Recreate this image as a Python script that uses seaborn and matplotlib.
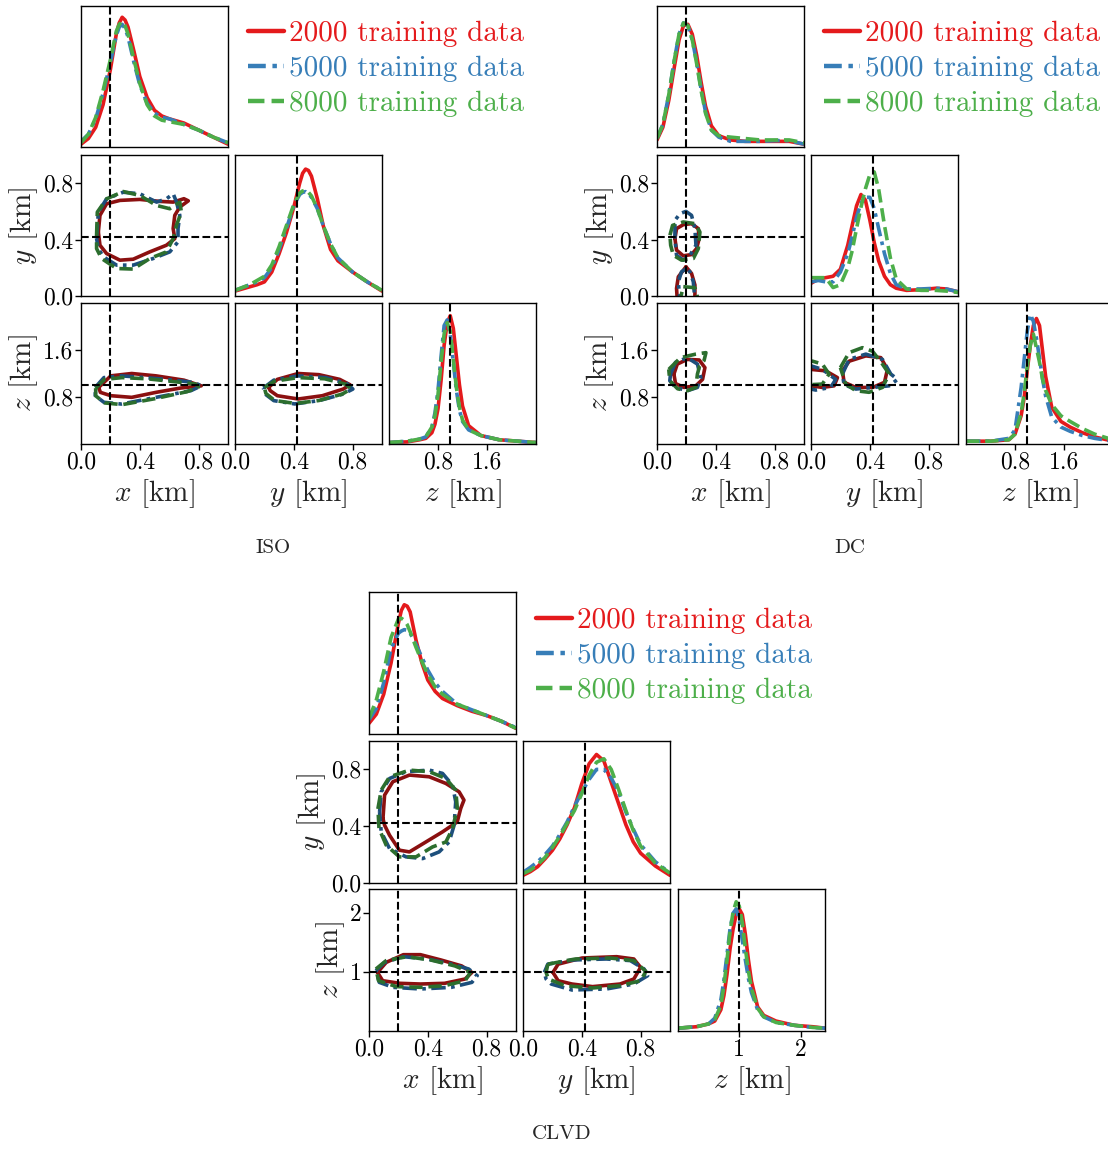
import matplotlib
matplotlib.use("Agg")
import matplotlib.pyplot as plt
import seaborn as sns
from matplotlib.lines import Line2D
from matplotlib.ticker import FixedLocator, FormatStrFormatter, NullLocator

# ---------------- data ----------------
TRAINING_SIZES = [2000, 5000, 8000]
TRUTH = [0.2, 0.42, 1.0]          # x, y, z  [km]
XLIM = [0.0, 1.0]
YLIM = [0.0, 1.0]
ZLIM = [0.0, 2.4]
XY_TICKS = [0.0, 0.4, 0.8]
ISO_Z_TICKS = [0.8, 1.6]
DC_Z_TICKS = [0.8, 1.6]
CLVD_Z_TICKS = [1, 2]

# ---- ISO marginals (relative density, 0..1 of panel height)
ISO_X_GRID = [0.0, 0.05, 0.1, 0.15, 0.2, 0.24, 0.26, 0.28, 0.30, 0.32, 0.36, 0.4, 0.45, 0.5, 0.55, 0.6, 0.7, 0.8, 0.9, 1.0]
ISO_X_2000 = [0.02, 0.06, 0.14, 0.30, 0.55, 0.80, 0.88, 0.92, 0.90, 0.85, 0.68, 0.50, 0.35, 0.26, 0.22, 0.20, 0.17, 0.12, 0.07, 0.02]
ISO_X_5000 = [0.04, 0.09, 0.20, 0.38, 0.60, 0.79, 0.85, 0.87, 0.84, 0.78, 0.60, 0.44, 0.31, 0.24, 0.21, 0.20, 0.16, 0.12, 0.07, 0.03]
ISO_X_8000 = [0.03, 0.09, 0.21, 0.40, 0.62, 0.82, 0.87, 0.89, 0.86, 0.80, 0.62, 0.45, 0.30, 0.22, 0.19, 0.18, 0.16, 0.12, 0.07, 0.03]

ISO_Y_GRID = [0.0, 0.05, 0.1, 0.15, 0.2, 0.25, 0.3, 0.35, 0.4, 0.44, 0.46, 0.48, 0.50, 0.52, 0.56, 0.6, 0.65, 0.7, 0.8, 0.9, 1.0]
ISO_Y_2000 = [0.035, 0.05, 0.065, 0.08, 0.10, 0.17, 0.30, 0.45, 0.63, 0.80, 0.87, 0.90, 0.89, 0.85, 0.69, 0.50, 0.33, 0.25, 0.17, 0.10, 0.035]
ISO_Y_5000 = [0.04, 0.06, 0.08, 0.10, 0.13, 0.20, 0.33, 0.48, 0.64, 0.72, 0.735, 0.74, 0.725, 0.70, 0.62, 0.50, 0.37, 0.27, 0.17, 0.10, 0.04]
ISO_Y_8000 = [0.04, 0.06, 0.08, 0.11, 0.14, 0.22, 0.35, 0.50, 0.65, 0.73, 0.745, 0.75, 0.735, 0.71, 0.62, 0.50, 0.37, 0.27, 0.17, 0.10, 0.04]

ISO_Z_GRID = [0.0, 0.3, 0.5, 0.6, 0.7, 0.75, 0.8, 0.85, 0.9, 0.95, 1.0, 1.05, 1.1, 1.15, 1.2, 1.3, 1.5, 1.8, 2.1, 2.4]
ISO_Z_2000 = [0.01, 0.015, 0.03, 0.04, 0.08, 0.14, 0.25, 0.45, 0.70, 0.86, 0.91, 0.82, 0.62, 0.42, 0.27, 0.13, 0.06, 0.03, 0.02, 0.01]
ISO_Z_5000 = [0.01, 0.02, 0.035, 0.05, 0.12, 0.22, 0.38, 0.62, 0.84, 0.88, 0.78, 0.58, 0.38, 0.24, 0.16, 0.10, 0.06, 0.03, 0.02, 0.01]
ISO_Z_8000 = [0.01, 0.02, 0.035, 0.05, 0.12, 0.20, 0.35, 0.58, 0.78, 0.86, 0.80, 0.60, 0.40, 0.26, 0.17, 0.10, 0.06, 0.03, 0.02, 0.01]

# ---- ISO contours (lists of closed loops of (a, b) points)
ISO_XY_2000 = [[(0.118, 0.454), (0.129, 0.572), (0.174, 0.654), (0.265, 0.678), (0.40, 0.685), (0.536, 0.671), (0.627, 0.666),
                (0.70, 0.69), (0.73, 0.675), (0.672, 0.631), (0.638, 0.572), (0.627, 0.478), (0.638, 0.407), (0.581, 0.36),
                (0.468, 0.313), (0.355, 0.261), (0.265, 0.254), (0.174, 0.301), (0.129, 0.36)]]
ISO_XY_5000 = [[(0.106, 0.407), (0.118, 0.595), (0.174, 0.689), (0.287, 0.736), (0.40, 0.725), (0.514, 0.666), (0.581, 0.689),
                (0.627, 0.725), (0.65, 0.666), (0.672, 0.572), (0.66, 0.478), (0.66, 0.384), (0.604, 0.313), (0.491, 0.266),
                (0.355, 0.219), (0.242, 0.219), (0.152, 0.278), (0.118, 0.336)]]
ISO_XY_8000 = [[(0.106, 0.431), (0.111, 0.595), (0.174, 0.689), (0.287, 0.741), (0.40, 0.713), (0.514, 0.642), (0.604, 0.619),
                (0.672, 0.666), (0.683, 0.595), (0.649, 0.501), (0.627, 0.407), (0.581, 0.313), (0.468, 0.266), (0.355, 0.191),
                (0.242, 0.195), (0.14, 0.266), (0.106, 0.336)]]

ISO_XZ_2000 = [[(0.12, 0.963), (0.203, 1.16), (0.345, 1.2), (0.51, 1.16), (0.70, 1.087), (0.818, 0.99), (0.676, 0.952),
                (0.51, 0.879), (0.345, 0.794), (0.203, 0.822), (0.132, 0.879)]]
ISO_XZ_5000 = [[(0.097, 0.963), (0.156, 1.13), (0.274, 1.16), (0.44, 1.13), (0.63, 1.087), (0.77, 1.048), (0.818, 0.99),
                (0.747, 0.907), (0.51, 0.794), (0.274, 0.68), (0.156, 0.71), (0.097, 0.822)]]
ISO_XZ_8000 = [[(0.10, 0.95), (0.16, 1.10), (0.28, 1.13), (0.45, 1.11), (0.64, 1.06), (0.78, 1.02), (0.80, 0.97),
                (0.72, 0.89), (0.50, 0.77), (0.28, 0.67), (0.16, 0.70), (0.10, 0.82)]]

ISO_YZ_2000 = [[(0.229, 0.963), (0.288, 1.10), (0.43, 1.2), (0.571, 1.18), (0.712, 1.10), (0.783, 1.008), (0.736, 0.935),
                (0.594, 0.822), (0.43, 0.766), (0.288, 0.822), (0.24, 0.907)]]
ISO_YZ_5000 = [[(0.193, 0.952), (0.264, 1.087), (0.43, 1.16), (0.618, 1.13), (0.76, 1.03), (0.802, 0.935), (0.736, 0.85),
                (0.571, 0.738), (0.406, 0.682), (0.264, 0.738), (0.205, 0.85)]]
ISO_YZ_8000 = [[(0.20, 0.96), (0.27, 1.07), (0.43, 1.13), (0.61, 1.11), (0.75, 1.02), (0.79, 0.94), (0.73, 0.85),
                (0.57, 0.74), (0.41, 0.69), (0.27, 0.74), (0.21, 0.86)]]

# ---- DC marginals
DC_X_GRID = [0.0, 0.04, 0.08, 0.12, 0.15, 0.18, 0.21, 0.24, 0.27, 0.3, 0.33, 0.37, 0.42, 0.5, 0.6, 0.7, 0.8, 0.9, 1.0]
DC_X_2000 = [0.05, 0.14, 0.33, 0.58, 0.76, 0.86, 0.87, 0.80, 0.65, 0.46, 0.29, 0.15, 0.08, 0.05, 0.04, 0.04, 0.04, 0.04, 0.02]
DC_X_5000 = [0.06, 0.16, 0.37, 0.63, 0.80, 0.88, 0.86, 0.76, 0.60, 0.41, 0.25, 0.12, 0.07, 0.04, 0.04, 0.04, 0.045, 0.045, 0.02]
DC_X_8000 = [0.06, 0.16, 0.37, 0.63, 0.80, 0.88, 0.86, 0.76, 0.59, 0.40, 0.24, 0.12, 0.08, 0.07, 0.06, 0.05, 0.05, 0.05, 0.03]

DC_Y_GRID = [0.0, 0.05, 0.1, 0.15, 0.2, 0.25, 0.28, 0.31, 0.34, 0.37, 0.4, 0.43, 0.46, 0.5, 0.54, 0.58, 0.65, 0.75, 0.85, 0.92, 1.0]
DC_Y_2000 = [0.09, 0.12, 0.13, 0.14, 0.19, 0.36, 0.50, 0.64, 0.72, 0.68, 0.54, 0.38, 0.25, 0.14, 0.08, 0.055, 0.04, 0.045, 0.055, 0.05, 0.03]
DC_Y_5000 = [0.10, 0.11, 0.10, 0.10, 0.17, 0.30, 0.42, 0.56, 0.66, 0.70, 0.70, 0.62, 0.48, 0.30, 0.16, 0.08, 0.05, 0.05, 0.055, 0.05, 0.03]
DC_Y_8000 = [0.13, 0.13, 0.13, 0.06, 0.08, 0.20, 0.32, 0.48, 0.63, 0.76, 0.86, 0.88, 0.76, 0.50, 0.27, 0.12, 0.05, 0.04, 0.04, 0.035, 0.025]

DC_Z_GRID = [0.0, 0.4, 0.7, 0.8, 0.9, 0.95, 1.0, 1.05, 1.1, 1.15, 1.2, 1.25, 1.3, 1.4, 1.55, 1.7, 1.9, 2.1, 2.4]
DC_Z_2000 = [0.02, 0.02, 0.03, 0.07, 0.20, 0.33, 0.52, 0.70, 0.84, 0.89, 0.84, 0.66, 0.48, 0.26, 0.16, 0.12, 0.08, 0.05, 0.02]
DC_Z_5000 = [0.02, 0.02, 0.04, 0.10, 0.40, 0.60, 0.80, 0.92, 0.87, 0.75, 0.61, 0.46, 0.34, 0.19, 0.12, 0.09, 0.06, 0.04, 0.02]
DC_Z_8000 = [0.02, 0.02, 0.03, 0.07, 0.22, 0.36, 0.55, 0.70, 0.78, 0.68, 0.58, 0.46, 0.38, 0.28, 0.20, 0.16, 0.11, 0.07, 0.03]

# ---- DC contours
DC_XY_2000 = [[(0.122, 0.407), (0.133, 0.478), (0.179, 0.506), (0.235, 0.513), (0.281, 0.478), (0.287, 0.407),
               (0.269, 0.336), (0.235, 0.294), (0.179, 0.285), (0.133, 0.325)],
              [(0.197, 0.207), (0.145, 0.136), (0.133, 0.054), (0.138, -0.03), (0.258, -0.03), (0.258, 0.078), (0.235, 0.16)]]
DC_XY_5000 = [[(0.122, 0.407), (0.122, 0.536), (0.156, 0.584), (0.197, 0.60), (0.235, 0.572), (0.258, 0.478),
               (0.265, 0.36), (0.224, 0.289), (0.179, 0.254), (0.133, 0.289)],
              [(0.201, 0.195), (0.167, 0.172), (0.145, 0.101), (0.156, -0.03), (0.258, -0.03), (0.247, 0.101), (0.224, 0.172)]]
DC_XY_8000 = [[(0.088, 0.431), (0.106, 0.501), (0.179, 0.525), (0.258, 0.513), (0.292, 0.454), (0.281, 0.336),
               (0.247, 0.266), (0.167, 0.254), (0.111, 0.289), (0.093, 0.36)],
              [(0.179, 0.066), (0.258, 0.059), (0.281, -0.03), (0.156, -0.03)]]

DC_XZ_2000 = [[(0.115, 1.19), (0.138, 1.36), (0.206, 1.44), (0.287, 1.43), (0.326, 1.30), (0.31, 1.10), (0.264, 0.99),
               (0.183, 0.963), (0.126, 1.03)]]
DC_XZ_5000 = [[(0.092, 1.19), (0.126, 1.39), (0.206, 1.47), (0.275, 1.36), (0.298, 1.13), (0.275, 0.963), (0.206, 0.907),
               (0.126, 0.963), (0.087, 1.076)]]
DC_XZ_8000 = [[(0.08, 1.27), (0.16, 1.47), (0.264, 1.53), (0.333, 1.555), (0.32, 1.42), (0.29, 1.33), (0.275, 1.19),
               (0.264, 0.963), (0.206, 0.907), (0.14, 0.94), (0.087, 1.076)]]

DC_YZ_2000 = [[(-0.04, 1.27), (0.0, 1.27), (0.1, 1.245), (0.18, 1.13), (0.157, 0.99), (0.077, 0.963), (0.0, 0.99), (-0.04, 0.99)],
              [(0.214, 1.245), (0.26, 1.41), (0.373, 1.5), (0.475, 1.47), (0.52, 1.27), (0.5, 1.05), (0.42, 0.963),
               (0.305, 0.963), (0.225, 1.05)]]
DC_YZ_5000 = [[(-0.04, 1.33), (0.0, 1.33), (0.077, 1.27), (0.168, 1.10), (0.134, 0.963), (0.032, 0.918), (0.0, 0.935), (-0.04, 0.935)],
              [(0.214, 1.19), (0.259, 1.44), (0.373, 1.53), (0.486, 1.44), (0.543, 1.19), (0.589, 1.10), (0.532, 0.99),
               (0.42, 0.963), (0.305, 0.935), (0.225, 1.008)]]
DC_YZ_8000 = [[(-0.04, 1.41), (0.01, 1.41), (0.077, 1.36), (0.123, 1.19), (0.077, 1.02), (0.0, 1.01), (-0.04, 1.01)],
              [(0.2, 1.30), (0.259, 1.555), (0.35, 1.64), (0.418, 1.58), (0.486, 1.36), (0.532, 1.19), (0.486, 0.963),
               (0.395, 0.88), (0.305, 0.907), (0.236, 1.02)]]

# ---- CLVD marginals
CLVD_X_GRID = [0.0, 0.05, 0.1, 0.15, 0.2, 0.22, 0.24, 0.26, 0.28, 0.32, 0.36, 0.4, 0.45, 0.5, 0.6, 0.7, 0.8, 0.9, 1.0]
CLVD_X_2000 = [0.075, 0.14, 0.28, 0.50, 0.78, 0.87, 0.91, 0.90, 0.86, 0.66, 0.50, 0.38, 0.30, 0.25, 0.20, 0.16, 0.13, 0.09, 0.04]
CLVD_X_5000 = [0.10, 0.18, 0.36, 0.60, 0.71, 0.725, 0.735, 0.73, 0.71, 0.63, 0.54, 0.45, 0.36, 0.30, 0.21, 0.17, 0.13, 0.09, 0.045]
CLVD_X_8000 = [0.11, 0.24, 0.44, 0.68, 0.81, 0.815, 0.80, 0.77, 0.72, 0.61, 0.51, 0.42, 0.33, 0.28, 0.21, 0.17, 0.13, 0.09, 0.04]

CLVD_Y_GRID = [0.0, 0.05, 0.1, 0.15, 0.2, 0.25, 0.3, 0.35, 0.4, 0.45, 0.5, 0.55, 0.6, 0.65, 0.7, 0.75, 0.8, 0.9, 1.0]
CLVD_Y_2000 = [0.054, 0.08, 0.115, 0.17, 0.23, 0.31, 0.41, 0.53, 0.70, 0.84, 0.905, 0.86, 0.71, 0.56, 0.41, 0.29, 0.21, 0.12, 0.054]
CLVD_Y_5000 = [0.075, 0.11, 0.15, 0.20, 0.26, 0.34, 0.43, 0.54, 0.64, 0.73, 0.80, 0.80, 0.74, 0.64, 0.50, 0.38, 0.27, 0.15, 0.07]
CLVD_Y_8000 = [0.066, 0.09, 0.13, 0.18, 0.25, 0.33, 0.42, 0.51, 0.63, 0.76, 0.85, 0.875, 0.80, 0.66, 0.51, 0.37, 0.26, 0.14, 0.07]

CLVD_Z_GRID = [0.0, 0.3, 0.5, 0.6, 0.7, 0.75, 0.8, 0.85, 0.9, 0.95, 1.0, 1.05, 1.1, 1.15, 1.2, 1.3, 1.4, 1.6, 1.9, 2.2, 2.4]
CLVD_Z_2000 = [0.02, 0.03, 0.05, 0.07, 0.15, 0.25, 0.40, 0.58, 0.72, 0.82, 0.86, 0.82, 0.68, 0.50, 0.35, 0.17, 0.11, 0.07, 0.04, 0.03, 0.02]
CLVD_Z_5000 = [0.02, 0.03, 0.05, 0.09, 0.22, 0.36, 0.54, 0.72, 0.83, 0.86, 0.78, 0.64, 0.50, 0.37, 0.27, 0.15, 0.10, 0.06, 0.04, 0.025, 0.02]
CLVD_Z_8000 = [0.02, 0.03, 0.05, 0.08, 0.18, 0.32, 0.50, 0.70, 0.84, 0.91, 0.88, 0.76, 0.58, 0.42, 0.30, 0.16, 0.10, 0.06, 0.04, 0.025, 0.02]

# ---- CLVD contours
CLVD_XY_2000 = [[(0.095, 0.454), (0.106, 0.619), (0.162, 0.713), (0.275, 0.76), (0.41, 0.748), (0.523, 0.701), (0.613, 0.642),
                 (0.646, 0.584), (0.624, 0.525), (0.60, 0.43), (0.50, 0.36), (0.387, 0.289), (0.275, 0.219), (0.207, 0.231),
                 (0.14, 0.336), (0.106, 0.407)]]
CLVD_XY_5000 = [[(0.072, 0.50), (0.083, 0.642), (0.14, 0.736), (0.252, 0.784), (0.41, 0.795), (0.50, 0.772), (0.568, 0.689),
                 (0.59, 0.572), (0.579, 0.407), (0.545, 0.289), (0.477, 0.219), (0.365, 0.172), (0.252, 0.184), (0.14, 0.242),
                 (0.083, 0.36)]]
CLVD_XY_8000 = [[(0.061, 0.525), (0.083, 0.654), (0.14, 0.748), (0.275, 0.795), (0.41, 0.784), (0.523, 0.736), (0.59, 0.654),
                 (0.601, 0.525), (0.568, 0.384), (0.523, 0.289), (0.432, 0.254), (0.32, 0.184), (0.207, 0.184), (0.117, 0.266),
                 (0.068, 0.384)]]

CLVD_XZ_2000 = [[(0.058, 0.99), (0.117, 1.16), (0.234, 1.29), (0.35, 1.29), (0.49, 1.2), (0.63, 1.10), (0.70, 0.99),
                 (0.654, 0.879), (0.514, 0.806), (0.35, 0.794), (0.21, 0.806), (0.093, 0.85)]]
CLVD_XZ_5000 = [[(0.047, 1.02), (0.105, 1.16), (0.234, 1.256), (0.397, 1.217), (0.56, 1.13), (0.678, 1.048), (0.736, 0.935),
                 (0.70, 0.822), (0.56, 0.738), (0.35, 0.71), (0.164, 0.738), (0.07, 0.822)]]
CLVD_XZ_8000 = [[(0.047, 1.048), (0.117, 1.19), (0.257, 1.256), (0.42, 1.2), (0.584, 1.10), (0.69, 0.99), (0.654, 0.85),
                 (0.514, 0.766), (0.35, 0.738), (0.187, 0.75), (0.065, 0.85)]]

CLVD_YZ_2000 = [[(0.204, 0.99), (0.239, 1.13), (0.403, 1.234), (0.637, 1.256), (0.754, 1.217), (0.80, 1.076), (0.754, 0.879),
                 (0.66, 0.794), (0.473, 0.75), (0.333, 0.794), (0.239, 0.85)]]
CLVD_YZ_5000 = [[(0.145, 0.99), (0.169, 1.13), (0.333, 1.2), (0.567, 1.217), (0.73, 1.19), (0.824, 1.048), (0.848, 0.935),
                 (0.754, 0.794), (0.567, 0.71), (0.333, 0.693), (0.192, 0.794), (0.157, 0.879)]]
CLVD_YZ_8000 = [[(0.169, 1.13), (0.356, 1.217), (0.59, 1.234), (0.754, 1.19), (0.836, 1.008), (0.80, 0.85), (0.66, 0.766),
                 (0.473, 0.727), (0.286, 0.766), (0.173, 0.879), (0.157, 0.99)]]

# ---------------- style ----------------
LINE_COLORS = ["#e41a1c", "#377eb8", "#4daf4a"]
CONTOUR_COLORS = ["#8b1010", "#1d4f7c", "#2c6e2e"]
LINESTYLES = ["-", (0, (4, 1.5, 1, 1.5)), (0, (3.7, 1.6))]
AX_LABELS = [r"$x$ [km]", r"$y$ [km]", r"$z$ [km]"]

sns.set_style("ticks")
plt.rcParams.update({
    "font.family": "serif",
    "font.serif": ["cmr10"],
    "mathtext.fontset": "cm",
    "axes.formatter.use_mathtext": True,
    "axes.unicode_minus": False,
})

W, H = 1108, 1149
fig = plt.figure(figsize=(W / 100, H / 100), dpi=100)


def add_ax(l, t, w, h):
    ax = fig.add_axes([l / W, 1 - (t + h) / H, w / W, h / H])
    for s in ax.spines.values():
        s.set_visible(True)
        s.set_linewidth(1.0)
        s.set_color("black")
    ax.tick_params(direction="out", length=4, width=1, labelsize=17, colors="black", pad=1.5)
    return ax


def set_ticks(axis, var, zticks, zfmt):
    if var < 2:
        axis.set_major_locator(FixedLocator(XY_TICKS))
        axis.set_major_formatter(FormatStrFormatter("%.1f"))
    else:
        axis.set_major_locator(FixedLocator(zticks))
        axis.set_major_formatter(FormatStrFormatter(zfmt))


def draw_block(cols, rows, w, h, diag, pairs, zticks, zfmt, legend_xy, title, title_xy):
    lims = [XLIM, YLIM, ZLIM]
    for i in range(3):
        for j in range(i + 1):
            ax = add_ax(cols[j], rows[i], w, h)
            if i == j:
                grid, series = diag[i]
                for vals, col, ls in zip(series, LINE_COLORS, LINESTYLES):
                    sns.lineplot(x=grid, y=vals, ax=ax, color=col, linestyle=ls, linewidth=2.6)
                ax.set_ylim(0, 1)
                ax.axvline(TRUTH[j], color="black", ls="--", lw=1.5, zorder=5)
                ax.yaxis.set_major_locator(NullLocator())
            else:
                for loops, col, ls in zip(pairs[(i, j)], CONTOUR_COLORS, LINESTYLES):
                    for loop in loops:
                        xs = [p[0] for p in loop] + [loop[0][0]]
                        ys = [p[1] for p in loop] + [loop[0][1]]
                        sns.lineplot(x=xs, y=ys, ax=ax, sort=False, estimator=None,
                                     color=col, linestyle=ls, linewidth=2.6)
                ax.set_ylim(lims[i])
                ax.axvline(TRUTH[j], color="black", ls="--", lw=1.5, zorder=5)
                ax.axhline(TRUTH[i], color="black", ls="--", lw=1.5, zorder=5)
                if j == 0:
                    set_ticks(ax.yaxis, i, zticks, zfmt)
                    ax.set_ylabel(AX_LABELS[i], fontsize=21, labelpad=2)
                else:
                    ax.yaxis.set_major_locator(NullLocator())
            ax.set_xlim(lims[j])
            if j != 0 or i == j:
                ax.set_ylabel("")
            if i == 2:
                set_ticks(ax.xaxis, j, zticks, zfmt)
                ax.set_xlabel(AX_LABELS[j], fontsize=21, labelpad=2.5)
            else:
                ax.xaxis.set_major_locator(NullLocator())
                ax.set_xlabel("")
    handles = [Line2D([], [], color=c, ls=ls, lw=3.2) for c, ls in zip(LINE_COLORS, LINESTYLES)]
    labels = [f"{n} training data" for n in TRAINING_SIZES]
    fig.legend(handles, labels, loc="upper left",
               bbox_to_anchor=(legend_xy[0] / W, 1 - legend_xy[1] / H),
               frameon=False, fontsize=21, labelcolor="linecolor",
               handlelength=1.25, handletextpad=0.15, labelspacing=0.285,
               borderpad=0, borderaxespad=0)
    fig.text(title_xy[0] / W, 1 - title_xy[1] / H, title, ha="center", va="center", fontsize=15)


draw_block(
    cols=[81, 235, 389], rows=[6, 155, 303], w=147, h=141,
    diag=[(ISO_X_GRID, [ISO_X_2000, ISO_X_5000, ISO_X_8000]),
          (ISO_Y_GRID, [ISO_Y_2000, ISO_Y_5000, ISO_Y_8000]),
          (ISO_Z_GRID, [ISO_Z_2000, ISO_Z_5000, ISO_Z_8000])],
    pairs={(1, 0): [ISO_XY_2000, ISO_XY_5000, ISO_XY_8000],
           (2, 0): [ISO_XZ_2000, ISO_XZ_5000, ISO_XZ_8000],
           (2, 1): [ISO_YZ_2000, ISO_YZ_5000, ISO_YZ_8000]},
    zticks=ISO_Z_TICKS, zfmt="%.1f", legend_xy=(248, 21), title="ISO", title_xy=(273, 548))

draw_block(
    cols=[657, 811, 966], rows=[6, 155, 303], w=147, h=141,
    diag=[(DC_X_GRID, [DC_X_2000, DC_X_5000, DC_X_8000]),
          (DC_Y_GRID, [DC_Y_2000, DC_Y_5000, DC_Y_8000]),
          (DC_Z_GRID, [DC_Z_2000, DC_Z_5000, DC_Z_8000])],
    pairs={(1, 0): [DC_XY_2000, DC_XY_5000, DC_XY_8000],
           (2, 0): [DC_XZ_2000, DC_XZ_5000, DC_XZ_8000],
           (2, 1): [DC_YZ_2000, DC_YZ_5000, DC_YZ_8000]},
    zticks=DC_Z_TICKS, zfmt="%.1f", legend_xy=(824, 21), title="DC", title_xy=(850, 548))

draw_block(
    cols=[369, 523, 678], rows=[592, 741, 889], w=147, h=142,
    diag=[(CLVD_X_GRID, [CLVD_X_2000, CLVD_X_5000, CLVD_X_8000]),
          (CLVD_Y_GRID, [CLVD_Y_2000, CLVD_Y_5000, CLVD_Y_8000]),
          (CLVD_Z_GRID, [CLVD_Z_2000, CLVD_Z_5000, CLVD_Z_8000])],
    pairs={(1, 0): [CLVD_XY_2000, CLVD_XY_5000, CLVD_XY_8000],
           (2, 0): [CLVD_XZ_2000, CLVD_XZ_5000, CLVD_XZ_8000],
           (2, 1): [CLVD_YZ_2000, CLVD_YZ_5000, CLVD_YZ_8000]},
    zticks=CLVD_Z_TICKS, zfmt="%d", legend_xy=(536, 608), title="CLVD", title_xy=(562, 1134))

fig.savefig("out.png", dpi=100)
